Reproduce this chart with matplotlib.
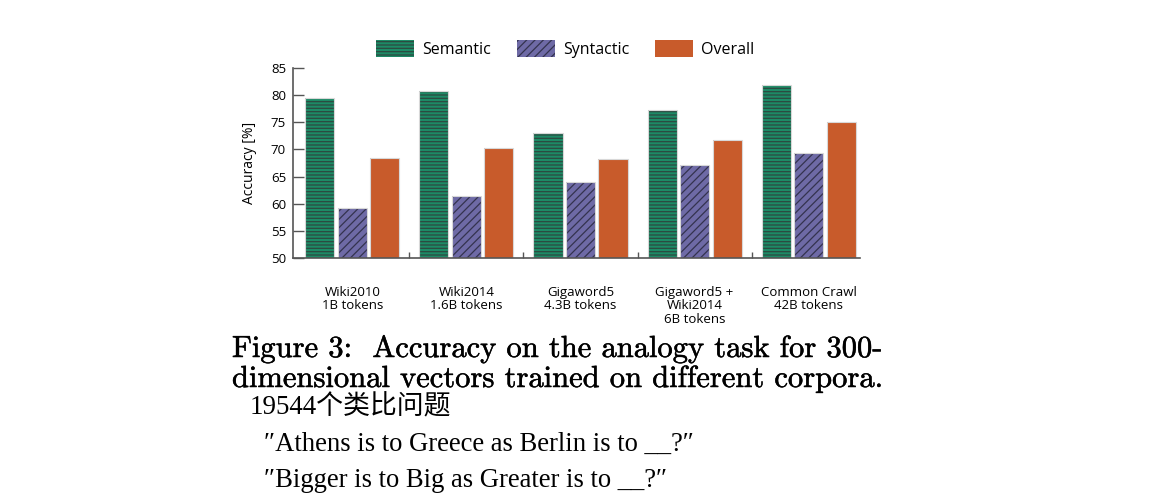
import matplotlib; matplotlib.use("Agg")
import matplotlib.pyplot as plt
import matplotlib.patheffects as pe
import numpy as np
from matplotlib.patches import Patch

# values
corpora = ["Wiki2010\n1B tokens", "Wiki2014\n1.6B tokens", "Gigaword5\n4.3B tokens",
           "Gigaword5 +\nWiki2014\n6B tokens", "Common Crawl\n42B tokens"]
semantic = [79.5, 80.8, 73.1, 77.2, 81.9]
syntactic = [59.3, 61.5, 64.1, 67.2, 69.3]
overall = [68.5, 70.3, 68.2, 71.7, 75.0]
yticks = [50, 55, 60, 65, 70, 75, 80, 85]

caption = ["Figure 3:  Accuracy on the analogy task for 300-",
           "dimensional vectors trained on different corpora."]
note = "19544个类比问题"
examples = ["\u2033Athens is to Greece as Berlin is to __?\u2033",
            "\u2033Bigger is to Big as Greater is to __?\u2033"]

plt.rcParams["hatch.linewidth"] = 0.9
fig = plt.figure(figsize=(11.49, 5.04), dpi=100)
ax = fig.add_axes([0.255, 0.488, 0.4935, 0.377])

x = np.arange(len(corpora))
w, off = 0.255, 0.285
series = [
    (semantic, -off, "#1d8a66", "#2c4a40", "-----", "Semantic"),
    (syntactic, 0, "#6e6aa6", "#34334f", "////", "Syntactic"),
    (overall, off, "#c85b2b", "#c85b2b", "", "Overall"),
]
handles = []
for vals, dx, fc, hc, hatch, name in series:
    bottom = 50
    h = np.array(vals) - bottom
    ax.bar(x + dx, h, w, bottom=bottom, color=fc, edgecolor=hc, hatch=hatch, linewidth=0)
    ax.bar(x + dx, h, w, bottom=bottom, fill=False, edgecolor="#d8d8d8", linewidth=0.8)
    handles.append(Patch(facecolor=fc, edgecolor=hc, hatch=hatch, linewidth=0, label=name))

ax.set_ylim(50, 85)
ax.set_xlim(-0.52, 4.45)
ax.set_yticks(yticks)
ax.set_xticks(x)
ax.set_xticklabels(corpora, fontsize=9.5, family="Open Sans", linespacing=1.05)
ax.set_xticks([0.5, 1.5, 2.5, 3.5], minor=True)
ax.tick_params(axis="x", which="major", length=0, pad=20)
ax.tick_params(axis="x", which="minor", direction="in", length=4, width=1, color="#555555")
ax.tick_params(axis="y", direction="in", length=8, width=1, color="#555555",
               labelsize=9.5, pad=5)
for lab in ax.get_yticklabels():
    lab.set_family("Open Sans")
for s in ["top", "right"]:
    ax.spines[s].set_visible(False)
for s in ["left", "bottom"]:
    ax.spines[s].set_color("#555555")
    ax.spines[s].set_linewidth(1.2)
ax.set_ylabel("Accuracy [%]", fontsize=10, family="Open Sans", labelpad=10)

fig.legend(handles=handles, loc="center", bbox_to_anchor=(0.492, 0.903), ncol=3,
           frameon=False, handlelength=2.4, handleheight=1.3,
           columnspacing=1.6, handletextpad=0.5, prop={"family": "Open Sans", "size": 11.5})

thick = [pe.withStroke(linewidth=0.35, foreground="black")]
fig.text(232 / 1149, 1 - 357 / 504, caption[0], family="cmr10", fontsize=22,
         va="baseline", path_effects=thick)
fig.text(232 / 1149, 1 - 387 / 504, caption[1], family="cmr10", fontsize=22,
         va="baseline", path_effects=thick)
fig.text(250 / 1149, 1 - 414 / 504, note, family=["Liberation Serif", "Noto Sans CJK SC"],
         fontsize=19.4, va="baseline")
for i, t in enumerate(examples):
    fig.text(264 / 1149, 1 - (451 + 36 * i) / 504, t,
             family=["Liberation Serif", "DejaVu Serif"], fontsize=19.2, va="baseline")

fig.savefig("out.png", dpi=100)
